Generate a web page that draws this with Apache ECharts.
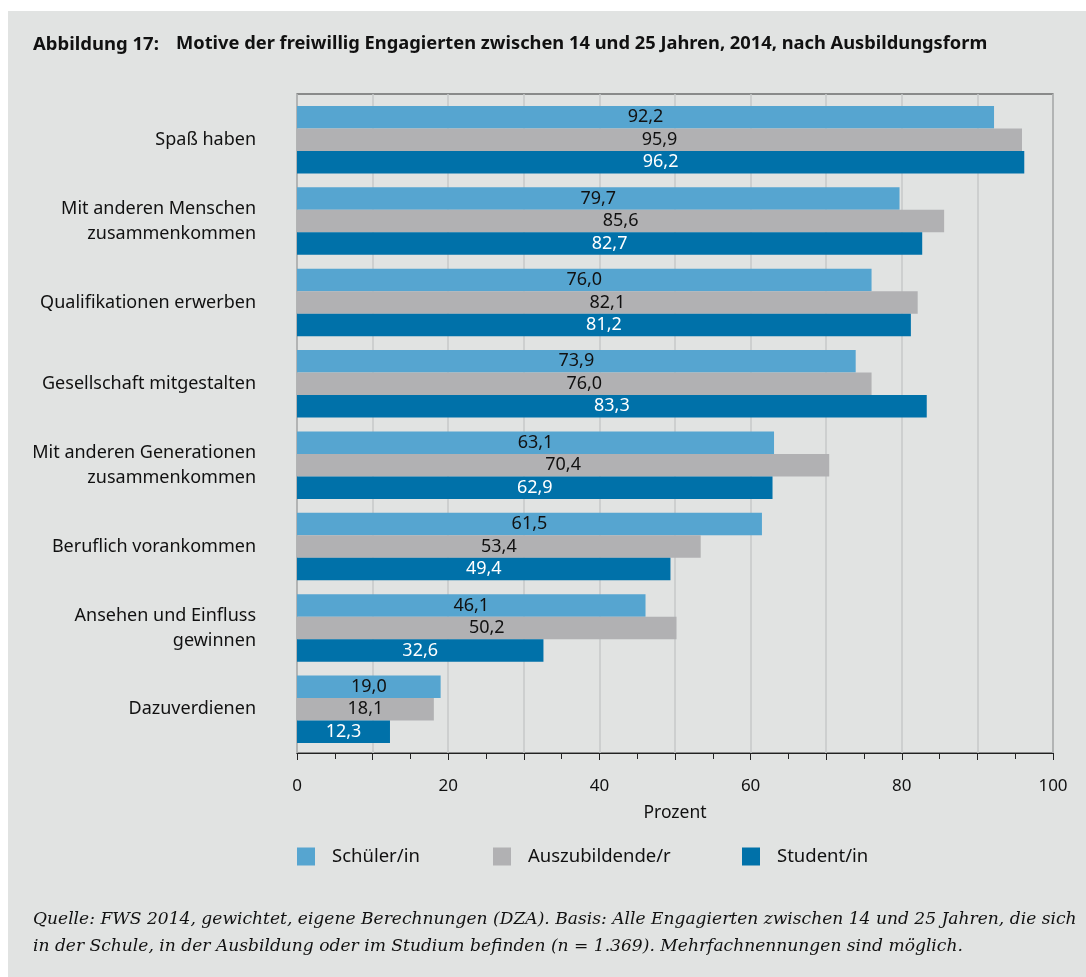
<!DOCTYPE html>
<html>
<head>
<meta charset="utf-8">
<script src="https://cdn.jsdelivr.net/npm/echarts@6/dist/echarts.min.js"></script>
<style>
  html, body { margin: 0; padding: 0; background: #ffffff; }
  #chart { width: 1086px; height: 977px; }
</style>
</head>
<body>
<div id="chart"></div>
<script>
// Daten aus der Abbildung
const categories = [
  'Spaß haben',
  'Mit anderen Menschen\nzusammenkommen',
  'Qualifikationen erwerben',
  'Gesellschaft mitgestalten',
  'Mit anderen Generationen\nzusammenkommen',
  'Beruflich vorankommen',
  'Ansehen und Einfluss\ngewinnen',
  'Dazuverdienen'
];
const seriesNames = ['Schüler/in', 'Auszubildende/r', 'Student/in'];
const schueler = [92.2, 79.7, 76.0, 73.9, 63.1, 61.5, 46.1, 19.0];
const azubis = [95.9, 85.6, 82.1, 76.0, 70.4, 53.4, 50.2, 18.1];
const studenten = [96.2, 82.7, 81.2, 83.3, 62.9, 49.4, 32.6, 12.3];
const xTicks = [0, 20, 40, 60, 80, 100];

const colors = ['#56a5d0', '#b1b1b3', '#0071a9'];
const labelColors = ['#111111', '#111111', '#ffffff'];
const FONT = '"Noto Sans", sans-serif';

const chart = echarts.init(document.getElementById('chart'));

function fmt(v) {
  return v.toFixed(1).replace('.', ',');
}

function makeSeries(name, data, i) {
  return {
    name: name,
    type: 'bar',
    xAxisIndex: 1,
    yAxisIndex: 1,
    data: data,
    barWidth: 22.5,
    barGap: '0%',
    itemStyle: { color: colors[i] },
    label: {
      show: true,
      position: 'inside',
      color: labelColors[i],
      fontFamily: FONT,
      fontSize: 18,
      formatter: (p) => fmt(p.value)
    },
    emphasis: { disabled: true }
  };
}

const legendLefts = [297, 493, 742];

const option = {
  backgroundColor: '#ffffff',
  animation: false,
  textStyle: { fontFamily: FONT },
  graphic: [
    {
      type: 'rect',
      left: 8, top: 11, z: -10,
      shape: { width: 1078, height: 966 },
      style: { fill: '#e1e3e2' }
    },
    {
      type: 'text',
      left: 33, top: 35,
      style: { text: 'Abbildung 17:', font: 'bold 18.5px "Noto Sans", sans-serif', fill: '#111' }
    },
    {
      type: 'text',
      left: 176, top: 35,
      style: {
        text: 'Motive der freiwillig Engagierten zwischen 14 und 25 Jahren, 2014, nach Ausbildungsform',
        font: 'bold 18.3px "Noto Sans", sans-serif', fill: '#111'
      }
    },
    {
      type: 'text',
      left: 33, top: 906,
      style: {
        text: 'Quelle: FWS 2014, gewichtet, eigene Berechnungen (DZA). Basis: Alle Engagierten zwischen 14 und 25 Jahren, die sich\n' +
              'in der Schule, in der Ausbildung oder im Studium befinden (n = 1.369). Mehrfachnennungen sind möglich.',
        font: 'italic 17.1px "DejaVu Serif", serif', fill: '#111', lineHeight: 27
      }
    }
  ],
  legend: seriesNames.map((n, i) => ({
    data: [n],
    left: legendLefts[i],
    top: 847,
    padding: 0,
    itemWidth: 18,
    itemHeight: 18,
    icon: 'rect',
    selectedMode: false,
    textStyle: { fontFamily: FONT, fontSize: 18.5, color: '#111', padding: [0, 0, 0, 12] }
  })),
  grid: [
    {
      // Rahmen, Gitterlinien und x-Achse
      left: 297, right: 33, top: 94, bottom: 224,
      show: true,
      borderColor: '#333',
      borderWidth: 1.2,
      backgroundColor: 'transparent'
    },
    {
      // Balkenbereich
      left: 297, right: 33, top: 99, bottom: 227
    }
  ],
  xAxis: [
    {
      gridIndex: 0,
      type: 'value',
      min: 0, max: 100, interval: 10,
      name: 'Prozent',
      nameLocation: 'middle',
      nameGap: 51,
      nameTextStyle: { fontFamily: FONT, fontSize: 17.5, color: '#111' },
      axisLine: { show: true, lineStyle: { color: '#222', width: 1.2 } },
      axisTick: { show: true, length: 7, lineStyle: { color: '#222' } },
      minorTick: { show: true, splitNumber: 2, length: 6, lineStyle: { color: '#222' } },
      splitLine: { show: true, lineStyle: { color: '#c6c8c8', width: 1.5 } },
      axisLabel: {
        margin: 25,
        fontFamily: FONT, fontSize: 17, color: '#111',
        formatter: (v) => (xTicks.indexOf(v) >= 0 ? String(v) : '')
      }
    },
    {
      gridIndex: 1,
      type: 'value',
      min: 0, max: 100,
      show: false
    }
  ],
  yAxis: [
    {
      gridIndex: 0,
      type: 'category',
      data: categories,
      show: false
    },
    {
      gridIndex: 1,
      type: 'category',
      data: categories,
      inverse: true,
      axisLine: { show: false },
      axisTick: { show: false },
      axisLabel: {
        margin: 41,
        fontFamily: FONT, fontSize: 18, color: '#111',
        lineHeight: 25,
        align: 'right'
      }
    }
  ],
  series: [
    makeSeries(seriesNames[0], schueler, 0),
    makeSeries(seriesNames[1], azubis, 1),
    makeSeries(seriesNames[2], studenten, 2)
  ]
};

chart.setOption(option);
</script>
</body>
</html>
